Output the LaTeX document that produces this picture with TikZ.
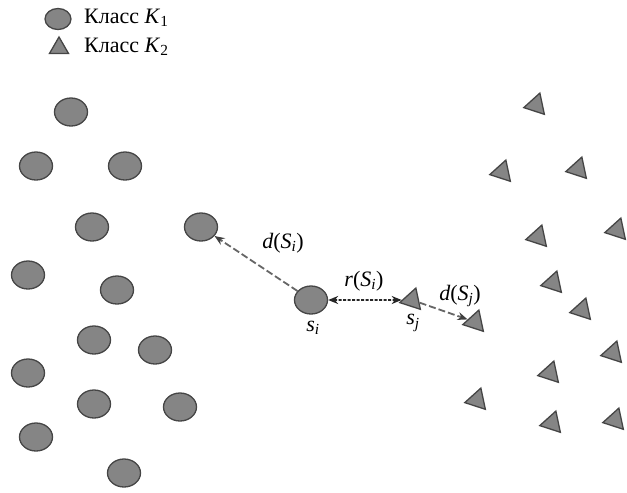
\documentclass[tikz,border=0pt]{standalone}
\usepackage{fontspec}
\setmainfont{Liberation Serif}
\usetikzlibrary{shapes.geometric,arrows.meta}
\definecolor{pfill}{HTML}{858585}
\definecolor{pdraw}{HTML}{454545}
\tikzset{
  circ/.style={ellipse,draw=pdraw,fill=pfill,line width=1.3pt,minimum width=33pt,minimum height=28pt,inner sep=0pt},
  tri/.style={regular polygon,regular polygon sides=3,draw=pdraw,fill=pfill,line width=1.3pt,minimum size=25pt,inner sep=0pt,rotate=102},
  lbl/.style={font=\fontsize{22}{26}\selectfont,inner sep=1pt},
  darr/.style={draw=black!60,line width=1.8pt,dash pattern=on 7pt off 3pt,-{Stealth[length=10pt,width=8pt,color=black!75]}},
  rarr/.style={draw=black!85,line width=1.8pt,dash pattern=on 3pt off 1.5pt,{Stealth[length=10pt,width=8pt]}-{Stealth[length=10pt,width=8pt]}}
}
\newcommand{\ssub}[2]{\textit{#1}\textsubscript{#2}}
\begin{document}
\begin{tikzpicture}[x=1pt,y=-1pt]
\useasboundingbox (0,0) rectangle (627,493);
% legend
\node[circ,minimum width=26pt,minimum height=21pt] (l1) at (58,19) {};
\node[tri,minimum size=22pt,rotate=-102] (l2) at (59,48) {};
\node[lbl,anchor=west] (t1) at (83,18) {Класс \ssub{K}{1}};
\node[lbl,anchor=west] (t2) at (83,47) {Класс \ssub{K}{2}};
% circles
\foreach \x/\y [count=\i] in {71/112,36/166,125/166,92/227,28/275,117/290,94/340,155/350,28/373,94/404,180/407,36/437,124/473}
  \node[circ] (c\i) at (\x,\y) {};
\node[circ] (ci) at (201,227) {};
\node[circ] (si) at (311,300) {};
% triangles
\foreach \x/\y [count=\i] in {536/105,502/172,578/169,538/237,617/230,553/283,582/310,613/353,550/373,477/400,552/423,615/420}
  \node[tri] (t\i) at (\x,\y) {};
\node[tri] (sj) at (412,300) {};
\node[tri] (tj) at (475,322) {};
% connectors
\draw[darr] (si) -- (ci);
\draw[rarr] (si) -- (sj);
\draw[darr] (sj) -- (tj);
% labels
\node[lbl] (ldi) at (283,243) {\textit{d}(\ssub{S}{\textit{i}})};
\node[lbl] (lri) at (364,281) {\textit{r}(\ssub{S}{\textit{i}})};
\node[lbl] (ldj) at (460,296) {\textit{d}(\ssub{S}{\textit{j}})};
\node[lbl] (lsi) at (313,328) {\ssub{s}{\textit{i}}};
\node[lbl] (lsj) at (413,323) {\ssub{s}{\textit{j}}};
\end{tikzpicture}
\end{document}
